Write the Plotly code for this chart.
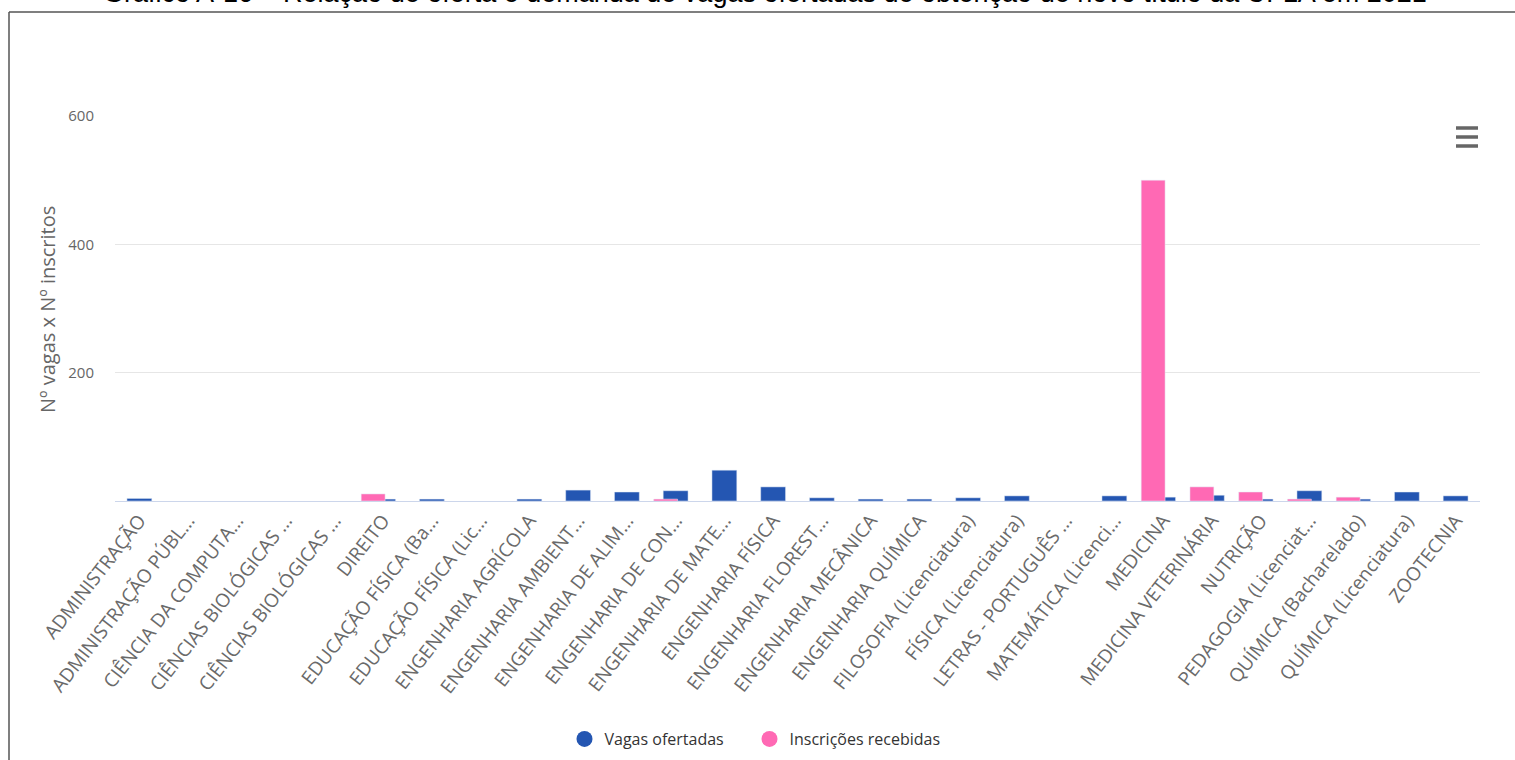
import plotly.graph_objects as go

categories = [
    "ADMINISTRAÇÃO", "ADMINISTRAÇÃO PÚBL...", "CIÊNCIA DA COMPUTA...",
    "CIÊNCIAS BIOLÓGICAS ...", "CIÊNCIAS BIOLÓGICAS ...", "DIREITO",
    "EDUCAÇÃO FÍSICA (Ba...", "EDUCAÇÃO FÍSICA (Lic...", "ENGENHARIA AGRÍCOLA",
    "ENGENHARIA AMBIENT...", "ENGENHARIA DE ALIM...", "ENGENHARIA DE CON...",
    "ENGENHARIA DE MATE...", "ENGENHARIA FÍSICA", "ENGENHARIA FLOREST...",
    "ENGENHARIA MECÂNICA", "ENGENHARIA QUÍMICA", "FILOSOFIA (Licenciatura)",
    "FÍSICA (Licenciatura)", "LETRAS - PORTUGUÊS ...", "MATEMÁTICA (Licenci...",
    "MEDICINA", "MEDICINA VETERINÁRIA", "NUTRIÇÃO", "PEDAGOGIA (Licenciat...",
    "QUÍMICA (Bacharelado)", "QUÍMICA (Licenciatura)", "ZOOTECNIA",
]
vagas_ofertadas = [4, None, None, None, None, 3, 3, None, 3, 17, 14, 16, 48, 22,
                   5, 3, 3, 5, 8, None, 8, 6, 9, 3, 16, 3, 14, 8]
inscricoes_recebidas = [None, None, None, None, None, 11, None, None, None, None,
                        None, 3, None, None, None, None, None, None, None, None,
                        None, 500, 22, 14, 3, 6, None, None]
y_ticks = [200, 400, 600]

BLUE = "#2456b2"
PINK = "#ff69b4"
W, H = 1515, 760
L, R, T, B = 115, 35, 116, 259
PW, PH = W - L - R, H - T - B


def px(x):
    return (x - L) / PW


def py(y):
    return (H - B - y) / PH


xs = list(range(len(categories)))

fig = go.Figure()
fig.add_trace(go.Bar(x=xs, y=vagas_ofertadas, name="Vagas ofertadas",
                     marker_color=BLUE, width=0.51, offset=-0.255,
                     showlegend=False))
fig.add_trace(go.Bar(x=xs, y=inscricoes_recebidas, name="Inscrições recebidas",
                     marker_color=PINK, width=0.49, offset=-0.45,
                     showlegend=False))
# legend entries with round symbols (extra non-breaking spaces widen the gap)
fig.add_trace(go.Scatter(x=[None], y=[None], mode="markers",
                         name="Vagas ofertadas" + "\u00a0" * 5,
                         marker=dict(color=BLUE, size=16, symbol="circle")))
fig.add_trace(go.Scatter(x=[None], y=[None], mode="markers", name="Inscrições recebidas",
                         marker=dict(color=PINK, size=16, symbol="circle")))

fig.update_layout(
    width=W, height=H,
    margin=dict(l=L, r=R, t=T, b=B, autoexpand=False),
    paper_bgcolor="white", plot_bgcolor="white",
    barmode="overlay",
    font=dict(family="Open Sans, DejaVu Sans, sans-serif", color="#666666"),
    xaxis=dict(
        range=[-0.5, len(categories) - 0.5],
        tickmode="array", tickvals=xs, ticktext=categories,
        tickangle=-52, tickfont=dict(size=19, color="#6a6a6a"),
        showgrid=False, showline=True, linecolor="#ccd6eb", linewidth=1,
        ticks="", zeroline=False, automargin=False,
    ),
    yaxis=dict(
        range=[0, 600], tickvals=y_ticks, ticktext=[str(v) for v in y_ticks],
        tickfont=dict(size=15, color="#666666"),
        showgrid=True, gridcolor="#e6e6e6", gridwidth=1,
        zeroline=False, showline=False, ticks="", ticklabelstandoff=20,
        automargin=False,
    ),
    legend=dict(orientation="h", xref="container", yref="container",
                x=755 / W, xanchor="center", y=(H - 739) / H, yanchor="middle",
                font=dict(size=16, color="#333333"), itemwidth=30,
                bgcolor="rgba(0,0,0,0)"),
    showlegend=True,
)

fig.add_annotation(
    text="Nº vagas x Nº inscritos", textangle=-90,
    xref="paper", yref="paper", x=px(47), y=py(310),
    xanchor="center", yanchor="middle", showarrow=False,
    font=dict(size=20, color="#666666"),
)
fig.add_annotation(
    text="Gráfico A-16 – Relação de oferta e demanda de vagas ofertadas de obtenção de novo título da UFLA em 2021",
    xref="paper", yref="paper", x=px(765), y=py(-7),
    xanchor="center", yanchor="middle", showarrow=False,
    font=dict(size=27, color="#000000", family="Liberation Sans, Arial, sans-serif"),
)

# frame
fig.add_shape(type="line", xref="paper", yref="paper",
              x0=px(9), x1=px(1516), y0=py(12), y1=py(12),
              line=dict(color="#555555", width=1.5))
fig.add_shape(type="line", xref="paper", yref="paper",
              x0=px(9), x1=px(9), y0=py(12), y1=py(762),
              line=dict(color="#555555", width=1.5))
# menu icon
for yy in (128, 137, 146):
    fig.add_shape(type="line", xref="paper", yref="paper",
                  x0=px(1456), x1=px(1478), y0=py(yy), y1=py(yy),
                  line=dict(color="#666666", width=3.5))

fig.write_html("out.html", config={"displayModeBar": False},
               post_script="document.body.style.margin='0px';document.body.style.overflow='hidden';")
